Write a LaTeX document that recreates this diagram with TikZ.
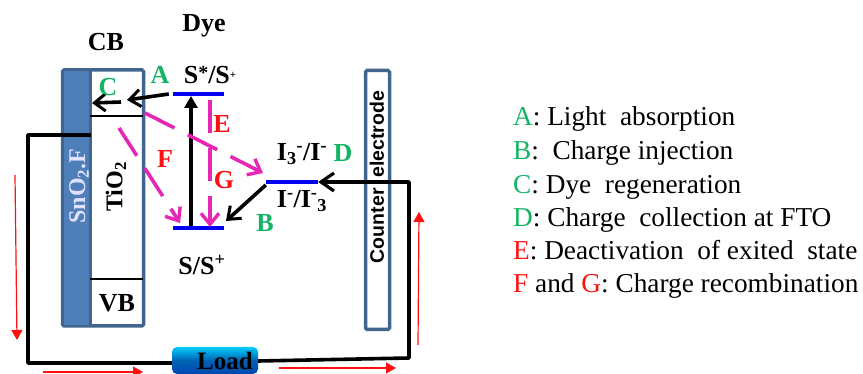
\documentclass[tikz,border=0pt]{standalone}
\usepackage{fontspec}
\setmainfont{Liberation Serif}
\newfontfamily\arialf{Liberation Sans}
\usetikzlibrary{arrows.meta,shadings}
\definecolor{framec}{HTML}{41658F}
\definecolor{fillc}{HTML}{4F7FB8}
\definecolor{grn}{HTML}{14B464}
\definecolor{pinkc}{HTML}{E626B4}
\definecolor{lvl}{HTML}{0000F0}
\definecolor{redc}{HTML}{FF1010}
\tikzset{
 lab/.style={inner sep=0pt,font=\fontsize{26}{28}\selectfont\bfseries},
 glab/.style={lab,text=grn},
 rlab/.style={lab,text=redc},
 leg/.style={inner sep=0pt,anchor=base west,font=\fontsize{27.3}{29}\selectfont},
 wire/.style={draw=black,line width=3.6pt},
 blackarr/.style={draw=black,line width=3.6pt,-{Straight Barb[length=11pt,width=17pt,line width=3pt]}},
 pinkarr/.style={draw=pinkc,line width=3.6pt,dash pattern=on 33pt off 15pt,-{Straight Barb[length=11pt,width=18pt,line width=3.4pt]}},
 redarr/.style={draw=redc,line width=1.2pt,-{Triangle[length=10pt,width=11pt]}},
 frameb/.style={draw=framec,line width=3.5pt,rounded corners=1.5pt},
}
\begin{document}
\begin{tikzpicture}[x=1pt,y=-1pt]
\useasboundingbox (0,0) rectangle (863,374);
% anode
\node[frameb,fill=white,minimum width=81pt,minimum height=256pt,inner sep=0pt] (anode) at (103,198) {};
\fill[fillc] (64,71) rectangle (90,325);
\draw[framec,line width=3pt] (90.5,71)--(90.5,325);
\coordinate (cbl) at (90,116); \coordinate (cbr) at (143,116);
\coordinate (vbl) at (90,279); \coordinate (vbr) at (143,279);
\draw[black,line width=2.4pt] (cbl)--(cbr);
\draw[black,line width=2.4pt] (vbl)--(vbr);
% counter electrode
\node[frameb,fill=white,minimum width=24pt,minimum height=259pt,inner sep=0pt] (ce) at (377.5,200) {};
\node[inner sep=0pt,rotate=90,font=\arialf\fontsize{19.5}{21}\selectfont\bfseries] (cetxt) at (377,177) {Counter\ \ electrode};
% levels
\node[inner sep=0pt,minimum width=51pt,minimum height=3.8pt,fill=lvl] (sstar) at (198.5,94) {};
\node[inner sep=0pt,minimum width=51pt,minimum height=3.8pt,fill=lvl] (sground) at (198.5,228) {};
\node[inner sep=0pt,minimum width=52pt,minimum height=3.8pt,fill=lvl] (redox) at (292,182) {};
% load
\node[inner sep=0pt,minimum width=86pt,minimum height=27pt,rounded corners=5pt,top color=cyan!80!blue,bottom color=blue!60!cyan!70!black,middle color=blue!45!cyan!70!black] (load) at (215,360.5) {};
% wire
\coordinate (w1) at (91,135); \coordinate (w2) at (28,135); \coordinate (w3) at (28,363);
\coordinate (w4) at (409,358); \coordinate (w5) at (409,182);
\draw[wire,line join=round] (w1)--(w2)--(w3)--(load.west |- w3);
\draw[wire,line join=round] (load.east |- 0,361)--(w4)--(w5)--(324,182);
\draw[black,line width=3.6pt,-{Straight Barb[length=13pt,width=18pt,line width=3.2pt]}] (w5)--(redox.east);
% black arrows
\coordinate (amid) at (127,100); \coordinate (cend) at (92,103); \coordinate (cstart) at (121,102);
\draw[blackarr] (sstar.west)++(-4,0)--(amid);
\draw[blackarr] (cstart)--(cend);
\draw[black,line width=3.2pt,-{Triangle[length=12pt,width=13pt]}] (191,226)--(191,96);
\draw[blackarr] (redox.west)++(0,3)--(226,221);
% pink dashed
\coordinate (e0) at (210,100); \coordinate (e1) at (210,227);
\coordinate (f0) at (119,128); \coordinate (f1) at (180,223);
\coordinate (g0) at (145,113); \coordinate (g1) at (263,173);
\draw[pinkarr] (e0)--(e1);
\draw[pinkarr] (f0)--(f1);
\draw[pinkarr] (g0)--(g1);
% red arrows
\coordinate (r1) at (15,175); \coordinate (r2) at (17,340);
\coordinate (r3) at (43,372); \coordinate (r4) at (143,372);
\coordinate (r5) at (279,368); \coordinate (r6) at (396,368);
\coordinate (r7) at (418,345); \coordinate (r8) at (419,212);
\draw[redarr] (r1)--(r2);
\draw[redarr] (r3)--(r4);
\draw[redarr] (r5)--(r6);
\draw[redarr] (r7)--(r8);
% labels
\node[lab] (cb) at (106,42) {CB};
\node[lab] (dye) at (204,26) {Dye};
\node[glab] (la) at (160,75) {A};
\node[lab] (s1) at (210,75) {S\raisebox{4pt}{\fontsize{20}{20}\selectfont*}/S\raisebox{5pt}{\fontsize{11}{11}\selectfont+}};
\node[glab] (lc) at (108,87) {C};
\node[rlab] (le) at (222,124) {E};
\node[rlab] (lf) at (165,159) {F};
\node[rlab] (lg) at (224,180) {G};
\node[lab,rotate=90,font=\fontsize{24}{26}\selectfont\bfseries] (tio) at (116,187) {TiO\textsubscript{2}};
\node[lab,rotate=90,text=white!88!blue,font=\fontsize{24}{26}\selectfont\bfseries] (sno) at (79,186) {SnO\textsubscript{2}.F};
\node[lab] (vb) at (117,303) {VB};
\node[lab] (s2) at (202,265) {S/S\textsuperscript{+}};
\node[glab] (lb) at (265,223) {B};
\node[lab] (i1) at (302,154) {I\textsubscript{3}\textsuperscript{-}/I\textsuperscript{-}};
\node[glab] (ld) at (343,153) {D};
\node[lab] (i2) at (302,201) {I\textsuperscript{-}/I\textsuperscript{-}\textsubscript{3}};
\node[lab,font=\fontsize{25}{27}\selectfont\bfseries] (ltxt) at (225,360.5) {Load};
% legend
\node[leg] (a1) at (513,126) {\textcolor{grn}{A}: Light\ \ absorption};
\node[leg] (a2) at (513,159.5) {\textcolor{grn}{B}:\ \ Charge injection};
\node[leg] (a3) at (513,193.5) {\textcolor{grn}{C}: Dye\ \ regeneration};
\node[leg] (a4) at (513,226.5) {\textcolor{grn}{D}: Charge\ \ collection at FTO};
\node[leg] (a5) at (513,260) {\textcolor{redc}{E}: Deactivation\ \ of exited\ \ state};
\node[leg] (a6) at (513,293) {\textcolor{redc}{F} and \textcolor{redc}{G}: Charge recombination};
\end{tikzpicture}
\end{document}
